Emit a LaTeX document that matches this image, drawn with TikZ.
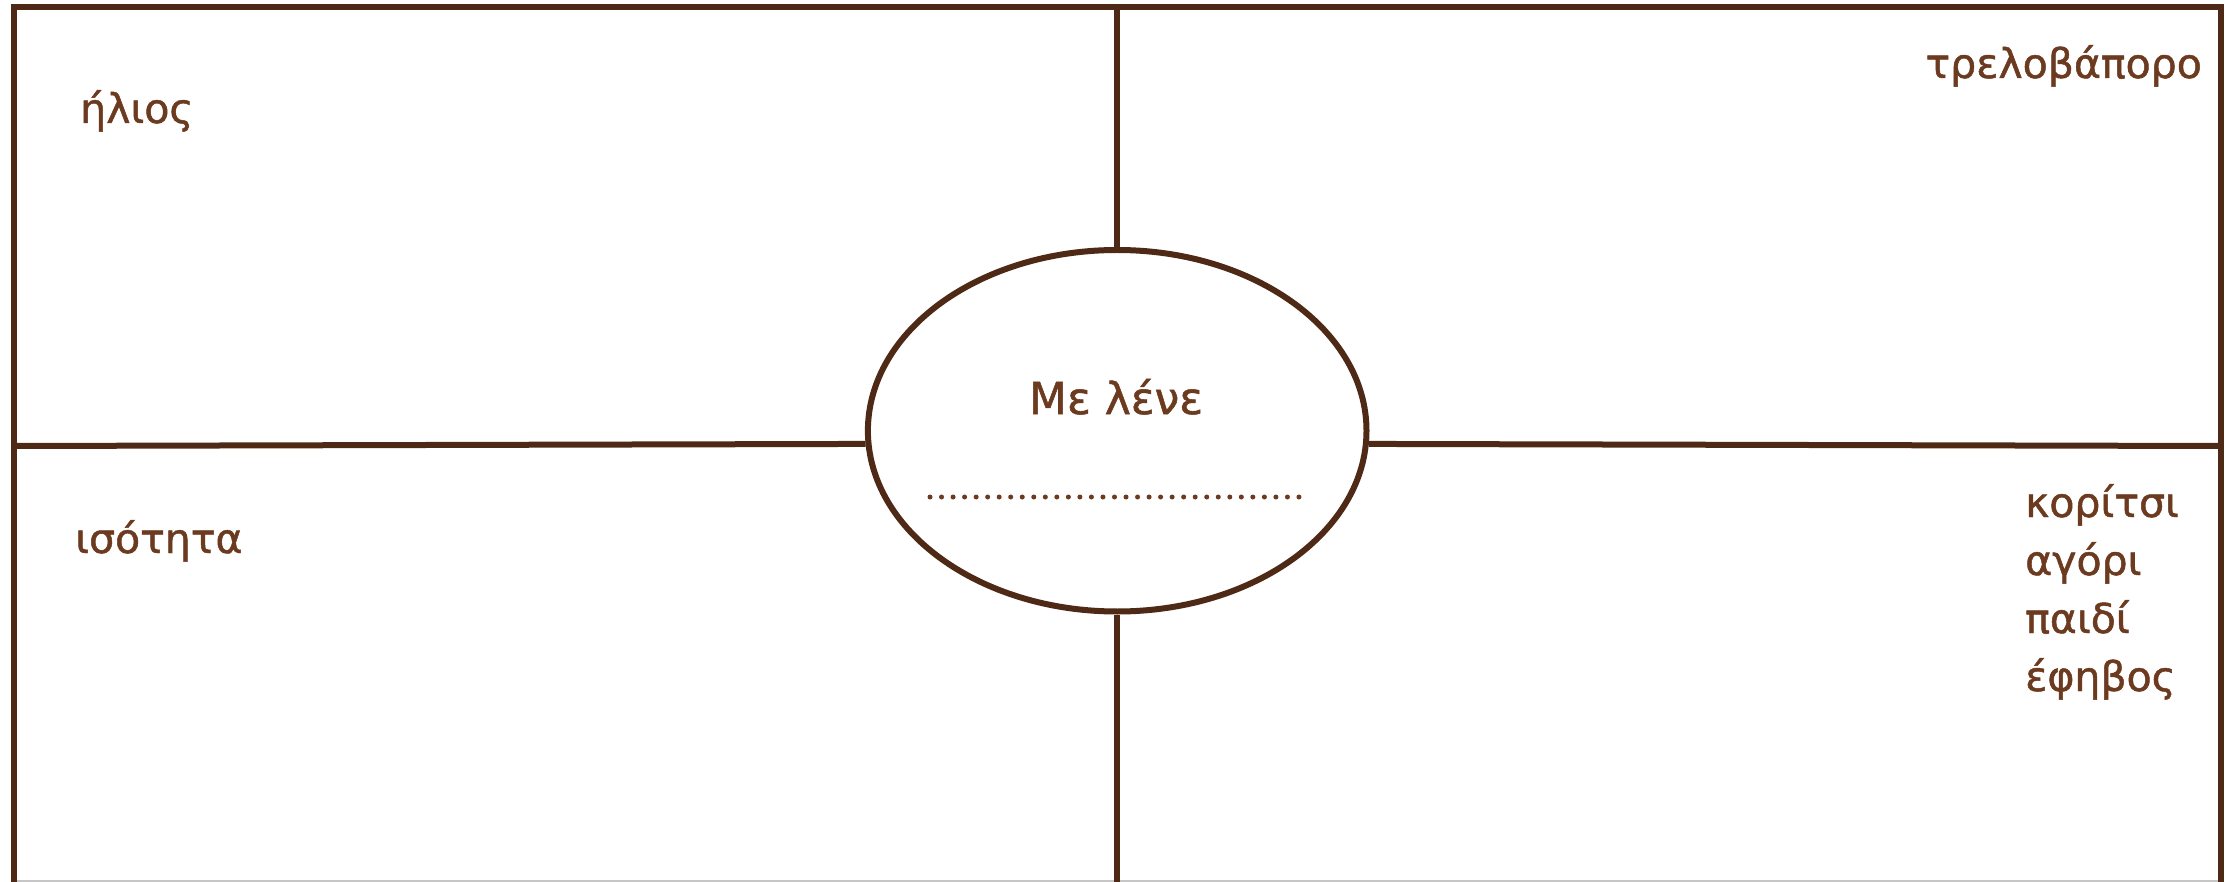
\documentclass[tikz,border=0pt]{standalone}
\usepackage{fontspec}
\setmainfont{DejaVu Sans}[FakeBold=1.2]
\usetikzlibrary{shapes.geometric}
\definecolor{linebrown}{HTML}{4E2A16}
\definecolor{textbrown}{HTML}{6B3A1F}
\tikzset{
  frame/.style={draw=linebrown, line width=6pt},
  label/.style={text=textbrown, font=\fontsize{41}{50}\selectfont, inner sep=0pt, anchor=base west},
  title/.style={text=textbrown, font=\fontsize{44}{54}\selectfont, inner sep=0pt, anchor=base},
  dots/.style={draw=textbrown, line width=5pt, line cap=round, dash pattern=on 0pt off 11.53pt},
}
\begin{document}
\begin{tikzpicture}[x=1pt,y=-1pt]
\useasboundingbox (0,0) rectangle (2236,882);
\clip (0,0) rectangle (2236,882);
\fill[white] (0,0) rectangle (2236,882);
% outer frame corners
\coordinate (TL) at (13.5,7);
\coordinate (TR) at (2221,7);
\coordinate (BL) at (13.5,900);
\coordinate (BR) at (2221,900);
\coordinate (TM) at (1117.2,7);
\coordinate (BM) at (1117.2,900);
\coordinate (ML) at (13.5,446);
\coordinate (MR) at (2221,446);
\draw[gray!45, line width=1.5pt] (16,881) -- (2221,881);
\draw[frame] (BL) -- (TL) -- (TR) -- (BR);
% central ellipse
\node[ellipse, draw=linebrown, line width=6pt, fill=white, minimum width=498.6pt, minimum height=361.5pt, inner sep=0pt] (e) at (1117.2,430.75) {};
\draw[frame] (TM) -- (e.north);
\draw[frame] (e.south) -- (BM);
\draw[frame] (ML) -- (e.183.46);
\draw[frame] (e.-3.46) -- (MR);
% title and dotted line
\node[title] (t) at (1116,414) {Με λένε};
\coordinate (d1) at (930,497);
\coordinate (d2) at (1299,497);
\draw[dots] (d1) -- (d2);
% corner labels
\node[label] (a) at (80,123) {ήλιος};
\node[label, anchor=base east] (b) at (2202,78) {τρελοβάπορο};
\node[label] (c) at (75,553) {ισότητα};
\node[label] (d) at (2025,517) {κορίτσι};
\node[label] (f) at (2025,575) {αγόρι};
\node[label] (g) at (2025,633) {παιδί};
\node[label] (h) at (2025,691) {έφηβος};
\end{tikzpicture}
\end{document}
